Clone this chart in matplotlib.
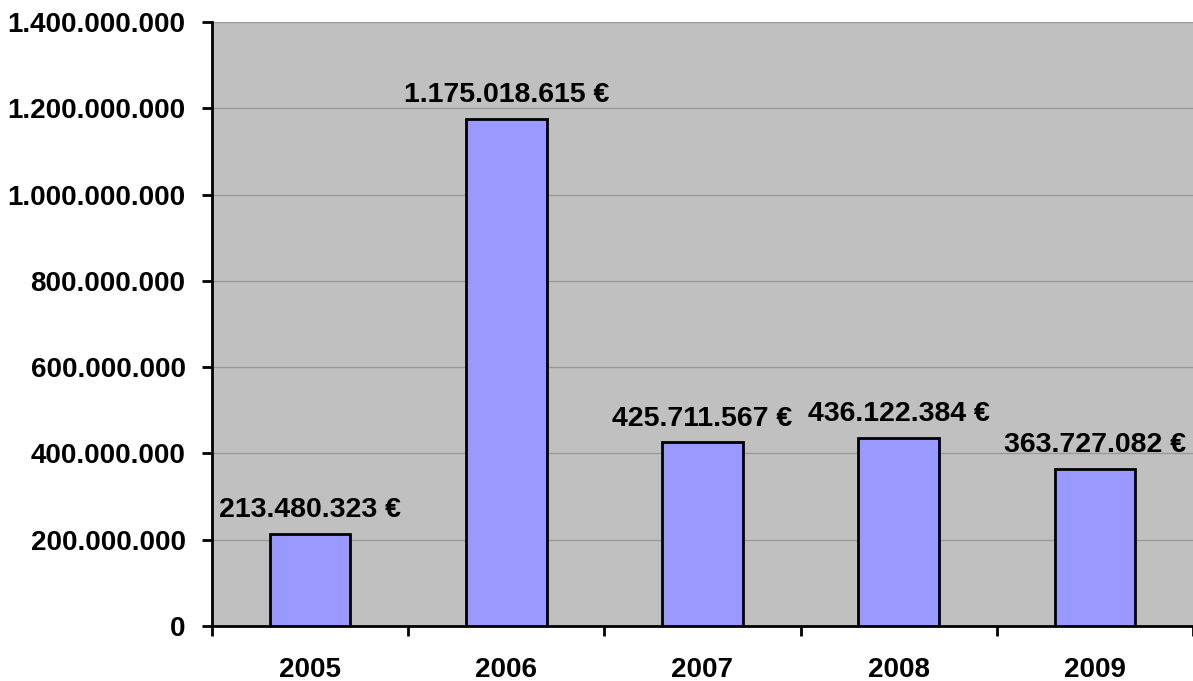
import numpy as np
import matplotlib.pyplot as plt
from matplotlib.ticker import FuncFormatter

plt.rcParams['font.family'] = ['Liberation Sans', 'DejaVu Sans']

years = ["2005", "2006", "2007", "2008", "2009"]
values = [213480323, 1175018615, 425711567, 436122384, 363727082]
y_ticks = [0, 200000000, 400000000, 600000000, 800000000, 1000000000, 1200000000, 1400000000]


def dotted(v):
    return f"{int(v):,}".replace(",", ".")


fig = plt.figure(figsize=(11.93, 6.81), dpi=100)
ax = fig.add_axes([0.1777, 0.0808, 0.8223, 0.8869])
ax.set_facecolor("#C0C0C0")

x = np.arange(len(years))
ax.bar(x, values, width=0.41, color="#9999FF", edgecolor="black", linewidth=2, zorder=3)

for xi, v in zip(x, values):
    ax.annotate(dotted(v) + " €", (xi, v), xytext=(0, 12), textcoords="offset points",
                ha="center", va="baseline", fontsize=20.5, fontweight="bold")

ax.set_xlim(-0.5, len(years) - 0.5)
ax.set_ylim(0, 1400000000)
ax.set_yticks(y_ticks)
ax.yaxis.set_major_formatter(FuncFormatter(lambda v, p: dotted(v)))
ax.yaxis.grid(True, color="#999999", linewidth=1, zorder=0)

ax.set_xticks(x)
ax.set_xticklabels(years)
ax.set_xticks(np.arange(len(years) + 1) - 0.5, minor=True)
ax.tick_params(axis="x", which="major", length=0, pad=22)
ax.tick_params(axis="x", which="minor", length=7, width=2, direction="out")
ax.tick_params(axis="y", length=7, width=2, direction="out", pad=12)
for lab in ax.get_xticklabels() + ax.get_yticklabels():
    lab.set_fontsize(20)
    lab.set_fontweight("bold")

for side in ["top", "right"]:
    ax.spines[side].set_visible(False)
ax.spines["left"].set_linewidth(2)
ax.spines["bottom"].set_linewidth(2)

plt.savefig("out.png", dpi=100)
